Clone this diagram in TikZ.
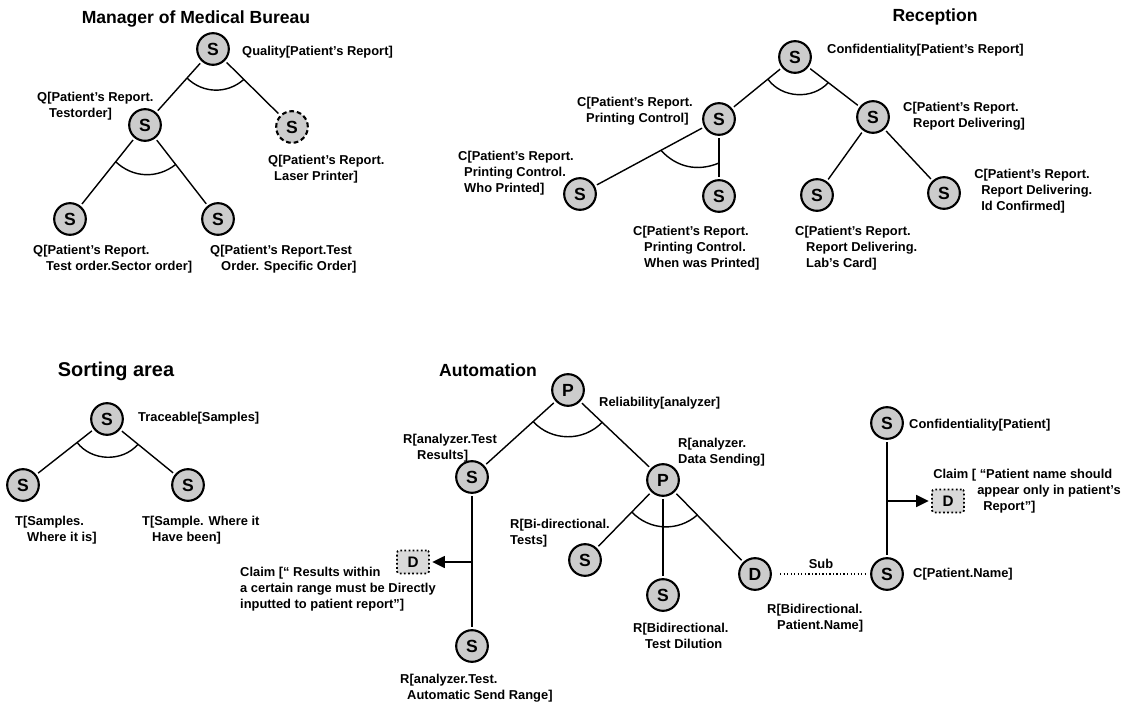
\documentclass[tikz,border=0pt]{standalone}
\usepackage{fontspec}
\setmainfont{Liberation Sans}
\usetikzlibrary{calc,arrows.meta}

\tikzstyle{goal}=[circle, draw, line width=1.8pt, fill=gray!40,
                  minimum size=0.95cm, inner sep=0pt,
                  font=\fontsize{15}{15}\selectfont\bfseries]
\tikzstyle{goaldashed}=[goal, dash pattern=on 4pt off 2.5pt]
\tikzstyle{claimbox}=[rectangle, draw, dotted, line width=1.5pt, fill=gray!30,
                      rounded corners=2pt, minimum width=0.96cm, minimum height=0.69cm,
                      inner sep=0pt, font=\fontsize{13}{13}\selectfont\bfseries]
\tikzstyle{annot}=[anchor=west, align=left, inner sep=0pt,
                   font=\fontsize{11}{13.5}\selectfont\bfseries]
\tikzstyle{heading}=[font=\fontsize{15}{18}\selectfont\bfseries]
\tikzstyle{link}=[line width=1.2pt, shorten <=2pt, shorten >=2pt]
\tikzstyle{andarc}=[line width=1.2pt]
\tikzstyle{claimarrow}=[line width=1.2pt, -{Triangle[length=0.38cm, width=0.36cm]},
                        shorten >=2pt]

\begin{document}
\begin{tikzpicture}
\useasboundingbox (0,0) rectangle (33.81,21.12);
%%%%%%%%%%%%%%%%%%%%%%%%%%%%%%
% nodes

% manager of medical bureau
\node (mmb_t) at (5.88, 20.55) [heading] {Manager of Medical Bureau};

\node (mmb) at (6.39, 19.65) [goal] {S};
\node (mmb_l) at (7.26, 19.56) [annot] {Quality[Patient's Report]};

\node (qtest) at (4.35, 17.37) [goal] {S};
\node (qtest_l) at (1.11, 17.94) [annot] {Q[Patient's Report.\\\hspace*{0.36cm}Testorder]};

\node (qlaser) at (8.76, 17.31) [goaldashed] {S};
\node (qlaser_l) at (8.04, 16.05) [annot] {Q[Patient's Report.\\\hspace*{0.18cm}Laser Printer]};

\node (qsector) at (2.10, 14.55) [goal] {S};
\node (qsector_l) at (0.99, 13.35) [annot] {Q[Patient's Report.\\\hspace*{0.39cm}Test order.Sector order]};

\node (qspec) at (6.54, 14.55) [goal] {S};
\node (qspec_l) at (6.30, 13.35) [annot] {Q[Patient's Report.Test\\\hspace*{0.33cm}Order. Specific Order]};


% reception
\node (rec_t) at (28.05, 20.61) [heading] {Reception};

\node (rec) at (23.85, 19.41) [goal] {S};
\node (rec_l) at (24.81, 19.62) [annot] {Confidentiality[Patient's Report]};

\node (pc) at (21.57, 17.55) [goal] {S};
\node (pc_l) at (17.31, 17.79) [annot] {C[Patient's Report.\\\hspace*{0.27cm}Printing Control]};

\node (rd) at (26.19, 17.61) [goal] {S};
\node (rd_l) at (27.09, 17.64) [annot] {C[Patient's Report.\\\hspace*{0.30cm}Report Delivering]};

\node (wp) at (17.40, 15.30) [goal] {S};
\node (wp_l) at (13.74, 15.93) [annot] {C[Patient's Report.\\\hspace*{0.18cm}Printing Control.\\\hspace*{0.18cm}Who Printed]};

\node (wwp) at (21.57, 15.24) [goal] {S};
\node (wwp_l) at (18.99, 13.68) [annot] {C[Patient's Report.\\\hspace*{0.33cm}Printing Control.\\\hspace*{0.33cm}When was Printed]};

\node (lc) at (24.51, 15.27) [goal] {S};
\node (lc_l) at (23.85, 13.68) [annot] {C[Patient's Report.\\\hspace*{0.33cm}Report Delivering.\\\hspace*{0.33cm}Lab's Card]};

\node (ic) at (28.32, 15.33) [goal] {S};
\node (ic_l) at (29.22, 15.39) [annot] {C[Patient's Report.\\\hspace*{0.21cm}Report Delivering.\\\hspace*{0.21cm}Id Confirmed]};


% sorting area
\node (sort_t) at (3.48, 9.99) [heading, font=\fontsize{17}{20}\selectfont\bfseries] {Sorting area};

\node (sort) at (3.21, 8.55) [goal] {S};
\node (sort_l) at (4.14, 8.58) [annot] {Traceable[Samples]};

\node (tis) at (0.69, 6.57) [goal] {S};
\node (tis_l) at (0.45, 5.22) [annot] {T[Samples.\\\hspace*{0.36cm}Where it is]};

\node (thb) at (5.64, 6.57) [goal] {S};
\node (thb_l) at (4.26, 5.22) [annot] {T[Sample. Where it\\\hspace*{0.30cm}Have been]};


% automation
\node (auto_t) at (14.64, 10.02) [heading] {Automation};

\node (auto) at (17.04, 9.42) [goal] {P};
\node (auto_l) at (17.97, 9.03) [annot] {Reliability[analyzer]};

\node (rtr) at (14.16, 6.81) [goal] {S};
\node (rtr_l) at (12.09, 7.68) [annot] {R[analyzer.Test\\\hspace*{0.42cm}Results]};

\node (rds) at (19.89, 6.72) [goal] {P};
\node (rds_l) at (20.34, 7.56) [annot] {R[analyzer.\\Data Sending]};

\node (ats) at (14.16, 1.74) [goal] {S};
\node (ats_l) at (12.00, 0.48) [annot] {R[analyzer.Test.\\\hspace*{0.21cm}Automatic Send Range]};

\node (dleft) at (12.39, 4.26) [claimbox] {D};
\node (dleft_l) at (7.20, 3.45) [annot] {Claim [`` Results within\\a certain range must be Directly\\inputted to patient report'']};

\node (rbt) at (17.55, 4.32) [goal] {S};
\node (rbt_l) at (15.30, 5.13) [annot] {R[Bi-directional.\\Tests]};

\node (rbtd) at (19.89, 3.27) [goal] {S};
\node (rbtd_l) at (18.99, 2.04) [annot] {R[Bidirectional.\\\hspace*{0.36cm}Test Dilution};

\node (dname) at (22.65, 3.90) [goal] {D};
\node (dname_l) at (23.01, 2.58) [annot] {R[Bidirectional.\\\hspace*{0.30cm}Patient.Name]};

\node (cpat) at (26.61, 8.43) [goal] {S};
\node (cpat_l) at (27.27, 8.37) [annot] {Confidentiality[Patient]};

\node (cname) at (26.61, 3.90) [goal] {S};
\node (cname_l) at (27.39, 3.90) [annot] {C[Patient.Name]};

\node (dright) at (28.44, 6.09) [claimbox] {D};
\node (dright_l) at (27.99, 6.39) [annot] {Claim [ ``Patient name should\\\hspace*{1.32cm}appear only in patient's\\\hspace*{1.50cm}Report'']};

\coordinate (tap_l) at (rtr |- dleft);
\coordinate (tap_r) at (cpat |- dright);

%%%%%%%%%%%%%%%%%%%%%%%%%%%%%%
% links

% manager of medical bureau
\draw [link] (mmb) -- (qtest);
\draw [link] (mmb) -- (qlaser);
\draw [link] (qtest) -- (qsector);
\draw [link] (qtest) -- (qspec);

\draw [andarc] ($(mmb)!1.17cm!(qtest)$) to [bend right=43] ($(mmb)!1.30cm!(qlaser)$);
\draw [andarc] ($(qtest)!1.41cm!(qsector)$) to [bend right=41] ($(qtest)!1.50cm!(qspec)$);

% reception
\draw [link] (rec) -- (pc);
\draw [link] (rec) -- (rd);
\draw [link] (pc) -- (wp);
\draw [link] (pc) -- (wwp);
\draw [link] (rd) -- (lc);
\draw [link] (rd) -- (ic);

\draw [andarc] ($(rec)!1.05cm!(pc)$) to [bend right=51] ($(rec)!1.26cm!(rd)$);
\draw [andarc] ($(pc)!1.98cm!(wp)$) to [bend right=35] ($(pc)!1.32cm!(wwp)$);

% sorting area
\draw [link] (sort) -- (tis);
\draw [link] (sort) -- (thb);

\draw [andarc] ($(sort)!1.14cm!(tis)$) to [bend right=51] ($(sort)!1.20cm!(thb)$);

% automation
\draw [link] (auto) -- (rtr);
\draw [link] (auto) -- (rds);
\draw [link] (rtr) -- (ats);
\draw [link] (rds) -- (rbt);
\draw [link] (rds) -- (rbtd);
\draw [link] (rds) -- (dname);
\draw [link] (cpat) -- (cname);

\draw [andarc] ($(auto)!1.41cm!(rtr)$) to [bend right=47] ($(auto)!1.41cm!(rds)$);
\draw [andarc] ($(rds)!1.34cm!(rbt)$) to [bend right=44] ($(rds)!1.47cm!(dname)$);

\draw [claimarrow] (tap_l) -- (dleft);
\draw [claimarrow] (tap_r) -- (dright);

\draw [line width=1pt, dotted, shorten <=0.25cm, shorten >=2pt] (dname) -- node [above=1pt, font=\fontsize{11}{13}\selectfont\bfseries] {Sub} (cname);

\end{tikzpicture}
\end{document}
